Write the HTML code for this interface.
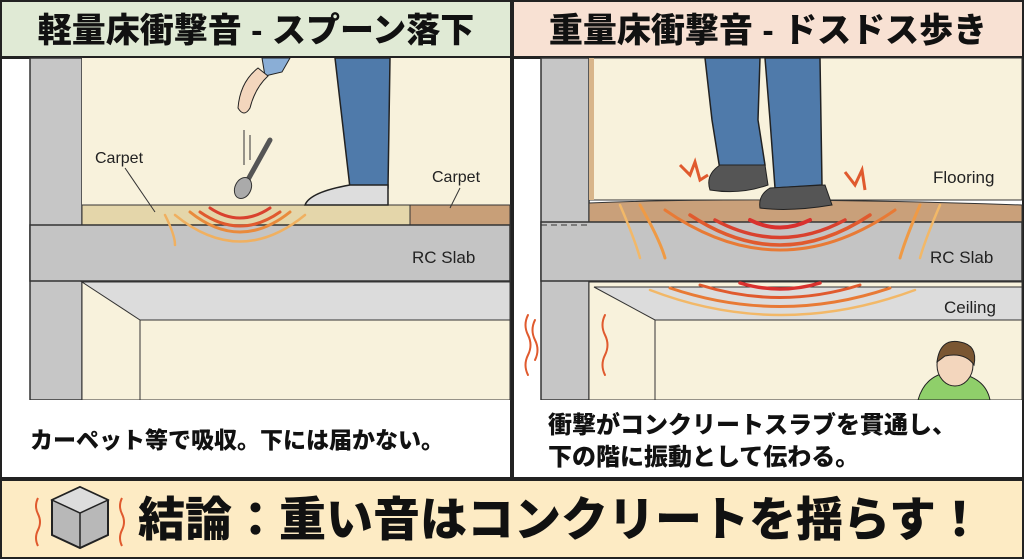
<!DOCTYPE html>
<html><head><meta charset="utf-8"><style>
html,body{margin:0;padding:0;background:#fff}
svg{display:block}
text{font-family:"Liberation Sans","Noto Sans CJK JP",sans-serif}
.jp{font-family:"Liberation Sans","Noto Sans CJK JP",sans-serif;font-weight:900}
</style></head><body>
<svg width="1024" height="559" viewBox="0 0 1024 559" xmlns="http://www.w3.org/2000/svg">
<rect width="1024" height="559" fill="#fff"/>
<rect x="1" y="1" width="510" height="56" fill="#e0ead5" stroke="#222" stroke-width="2"/>
<rect x="513" y="1" width="510" height="56" fill="#f8e1d3" stroke="#222" stroke-width="2"/>
<text x="256" y="42" font-size="34" class="jp" text-anchor="middle" fill="#111">軽量床衝撃音 - スプーン落下</text>
<text x="768" y="42" font-size="34" class="jp" text-anchor="middle" fill="#111">重量床衝撃音 - ドスドス歩き</text>

<!-- LEFT PANEL -->
<rect x="1" y="58" width="510" height="420" fill="#fff" stroke="#222" stroke-width="2"/>
<rect x="30" y="58" width="52" height="342" fill="#c6c6c6" stroke="#333" stroke-width="1.5"/>
<rect x="82" y="58" width="428" height="147" fill="#f8f2dc"/>
<rect x="82" y="205" width="328" height="20" fill="#e4d6aa" stroke="#333"/>
<rect x="410" y="205" width="100" height="20" fill="#c89f78" stroke="#333"/>
<rect x="30" y="225" width="480" height="56" fill="#c4c4c4" stroke="#333" stroke-width="1.5"/>
<rect x="82" y="282" width="428" height="118" fill="#f8f2dc" stroke="#333"/>
<polygon points="82,282 510,282 510,320 140,320" fill="#dcdcdc" stroke="#333"/>
<line x1="140" y1="320" x2="140" y2="400" stroke="#333"/>
<line x1="30" y1="225" x2="82" y2="225" stroke="#333" stroke-dasharray="6,4"/>
<polygon points="335,58 390,58 388,188 350,188" fill="#4f7aaa" stroke="#222" stroke-width="1.5"/>
<path d="M350,185 L388,185 L388,205 L305,205 Q310,192 350,185Z" fill="#ddd" stroke="#222" stroke-width="1.5"/>
<path d="M262,58 L290,58 L282,72 L265,76Z" fill="#8aaed6" stroke="#222"/>
<path d="M258,68 L268,76 Q255,88 250,108 Q244,118 238,108 Q240,82 258,68Z" fill="#f3d6bd" stroke="#222"/>
<path d="M270,140 L245,185" stroke="#555" stroke-width="5" stroke-linecap="round"/>
<ellipse cx="243" cy="188" rx="8" ry="11" fill="#aaa" stroke="#333" transform="rotate(25 243 188)"/>
<line x1="244" y1="130" x2="244" y2="165" stroke="#333"/>
<line x1="250" y1="135" x2="250" y2="160" stroke="#333"/>
<g fill="none" stroke-linecap="round">
<path d="M210,208 Q240,228 270,208" stroke="#d9412e" stroke-width="3"/>
<path d="M200,212 Q240,240 280,212" stroke="#e05a2e" stroke-width="3"/>
<path d="M190,212 Q240,252 290,212" stroke="#e98a3c" stroke-width="3"/>
<path d="M175,215 Q240,268 305,215" stroke="#f0b060" stroke-width="2.5"/>
<path d="M165,215 Q175,235 175,245" stroke="#f0b060" stroke-width="2.5"/>
</g>
<text x="95" y="163" font-size="16" fill="#222">Carpet</text>
<line x1="125" y1="168" x2="155" y2="212" stroke="#333"/>
<text x="432" y="182" font-size="16" fill="#222">Carpet</text>
<line x1="460" y1="188" x2="450" y2="208" stroke="#333"/>
<text x="412" y="263" font-size="17" fill="#222">RC Slab</text>
<rect x="2" y="400" width="508" height="77" fill="#fff"/>
<text x="30" y="448" font-size="23" class="jp" font-weight="500" fill="#111">カーペット等で吸収。下には届かない。</text>

<!-- RIGHT PANEL -->
<rect x="513" y="58" width="510" height="420" fill="#fff" stroke="#222" stroke-width="2"/>
<rect x="541" y="58" width="48" height="342" fill="#c6c6c6" stroke="#333" stroke-width="1.5"/>
<rect x="589" y="58" width="433" height="142" fill="#f8f2dc" stroke="#333"/>
<rect x="589" y="58" width="5" height="142" fill="#d8b58a"/>
<path d="M589,203 Q760,196 1022,205 L1022,222 L589,222Z" fill="#c9a07a" stroke="#333"/>
<rect x="541" y="222" width="481" height="59" fill="#c4c4c4" stroke="#333" stroke-width="1.5"/>
<rect x="589" y="282" width="433" height="118" fill="#f8f2dc" stroke="#333"/>
<polygon points="594,287 1022,287 1022,320 655,320" fill="#dcdcdc" stroke="#333"/>
<line x1="655" y1="320" x2="655" y2="400" stroke="#333"/>
<line x1="541" y1="225" x2="589" y2="225" stroke="#333" stroke-dasharray="6,4"/>
<polygon points="705,58 760,58 758,120 765,165 720,170 712,120" fill="#4f7aaa" stroke="#222" stroke-width="1.5"/>
<polygon points="765,58 820,58 822,185 775,188 770,120" fill="#4f7aaa" stroke="#222" stroke-width="1.5"/>
<path d="M720,165 L765,165 L768,185 Q740,195 710,190 Q705,175 720,165Z" fill="#555" stroke="#222"/>
<path d="M770,188 L825,185 L832,205 Q790,212 760,208 Q758,195 770,188Z" fill="#555" stroke="#222"/>
<path d="M680,165 L690,175 L695,162 L700,180 L708,175" stroke="#e05a2e" stroke-width="3" fill="none"/>
<path d="M845,172 L855,185 L862,170 L865,190" stroke="#e05a2e" stroke-width="3" fill="none"/>
<g fill="none" stroke-linecap="round">
<path d="M750,220 Q780,235 810,220" stroke="#d9312e" stroke-width="4"/>
<path d="M715,220 Q780,255 845,220" stroke="#d9412e" stroke-width="3.5"/>
<path d="M690,215 Q780,275 870,215" stroke="#e05a2e" stroke-width="3.5"/>
<path d="M665,210 Q780,290 895,210" stroke="#e87a35" stroke-width="3"/>
<path d="M640,205 Q660,240 665,258" stroke="#ef9a45" stroke-width="3"/>
<path d="M620,205 Q635,240 640,258" stroke="#f2b868" stroke-width="2.5"/>
<path d="M920,205 Q905,240 900,258" stroke="#ef9a45" stroke-width="3"/>
<path d="M940,205 Q925,240 920,258" stroke="#f2b868" stroke-width="2.5"/>
<path d="M740,283 Q780,295 820,283" stroke="#d9312e" stroke-width="3.5"/>
<path d="M700,285 Q780,310 860,285" stroke="#e05a2e" stroke-width="3"/>
<path d="M670,288 Q780,325 890,288" stroke="#e87a35" stroke-width="3"/>
<path d="M650,290 Q780,340 915,290" stroke="#f2b868" stroke-width="2.5"/>
<path d="M528,315 q-5,10 0,20 q5,10 0,20 q-5,10 0,20" stroke="#e05a2e" stroke-width="2"/>
<path d="M535,320 q-5,10 0,20 q5,10 0,20" stroke="#e05a2e" stroke-width="2"/>
<path d="M605,315 q-5,10 0,20 q5,10 0,20 q-5,10 0,20" stroke="#e05a2e" stroke-width="2"/>
</g>
<path d="M918,400 Q925,375 950,372 Q985,375 990,400Z" fill="#8fcf6a" stroke="#222"/>
<ellipse cx="955" cy="365" rx="18" ry="21" fill="#f3d6bd" stroke="#222"/>
<path d="M937,362 Q940,338 960,342 Q978,345 974,365 Q965,352 945,356Z" fill="#7a5632" stroke="#222"/>
<text x="933" y="183" font-size="17" fill="#222">Flooring</text>
<text x="930" y="263" font-size="17" fill="#222">RC Slab</text>
<text x="944" y="313" font-size="17" fill="#222">Ceiling</text>
<rect x="514" y="400" width="508" height="77" fill="#fff"/>
<text x="548" y="433" font-size="24" class="jp" font-weight="500" fill="#111">衝撃がコンクリートスラブを貫通し、</text>
<text x="548" y="465" font-size="24" class="jp" font-weight="500" fill="#111">下の階に振動として伝わる。</text>

<rect x="1" y="480" width="1022" height="78" fill="#fdebc4" stroke="#222" stroke-width="2"/>
<polygon points="80,487 108,500 108,535 80,548 52,535 52,500" fill="#b8b8b8" stroke="#222" stroke-width="2"/>
<polygon points="80,487 108,500 80,513 52,500" fill="#ddd" stroke="#222" stroke-width="1.5"/>
<line x1="80" y1="513" x2="80" y2="548" stroke="#222" stroke-width="1.5"/>
<g fill="none" stroke="#e05a2e" stroke-width="2">
<path d="M38,498 q-4,8 0,16 q4,8 0,16 q-4,8 0,16"/>
<path d="M122,498 q-4,8 0,16 q4,8 0,16 q-4,8 0,16"/>
</g>
<text x="138" y="536" font-size="47" class="jp" fill="#111">結論：重い音はコンクリートを揺らす！</text>
</svg>
</body></html>
